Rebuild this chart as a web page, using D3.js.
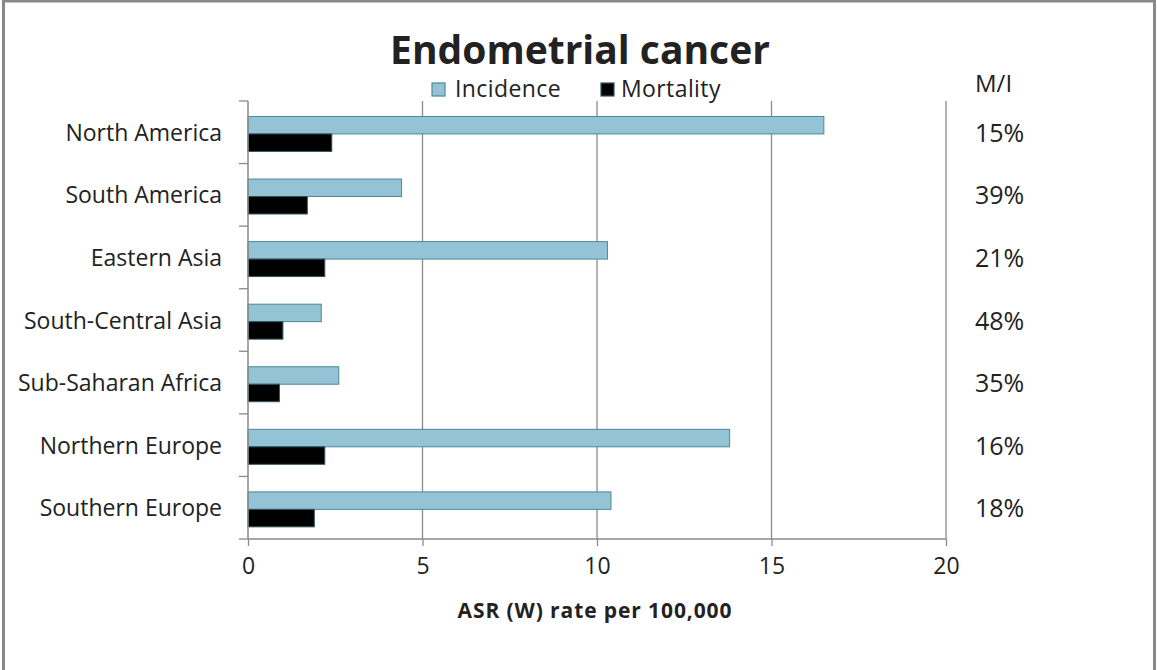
<!DOCTYPE html>
<html><head><meta charset="utf-8">
<script src="https://cdn.jsdelivr.net/npm/d3@7"></script>
<style>body{margin:0;background:#fff}svg{display:block}text{font-family:"Open Sans",Lato,sans-serif;fill:#222}</style>
</head><body>
<script>
const categories = ["North America","South America","Eastern Asia","South-Central Asia","Sub-Saharan Africa","Northern Europe","Southern Europe"];
const incidence = [16.5, 4.4, 10.3, 2.1, 2.6, 13.8, 10.4];
const mortality = [2.4, 1.7, 2.2, 1.0, 0.9, 2.2, 1.9];
const ratioLabels = ["15%","39%","21%","48%","35%","16%","18%"];
const xTicks = [0,5,10,15,20];
const seriesNames = ["Incidence","Mortality"];

const W=1157,H=670;
const svg=d3.select("body").append("svg").attr("width",W).attr("height",H);
svg.append("rect").attr("x",3.5).attr("y",1).attr("width",1151).attr("height",680).attr("fill","#fff").attr("stroke","#888").attr("stroke-width",3);

const x=d3.scaleLinear().domain([0,20]).range([248,946]);
const y=d3.scaleBand().domain(categories).range([101,539]);
const inner=d3.scaleBand().domain(seriesNames).range([0,y.bandwidth()]).paddingInner(0).paddingOuter(0.79).align(0.56);

// grid
svg.append("g").selectAll("line").data(xTicks.slice(1)).join("line")
  .attr("x1",d=>x(d)).attr("x2",d=>x(d)).attr("y1",101).attr("y2",539)
  .attr("stroke","#8a8a8a").attr("stroke-width",1.3);

// bars
const colors={Incidence:"#93c3d4",Mortality:"#000"};
const strokes={Incidence:"#4a8a9c",Mortality:"#2f5561"};
const g=svg.append("g");
categories.forEach((c,i)=>{
  [["Incidence",incidence[i]],["Mortality",mortality[i]]].forEach(([s,v])=>{
    g.append("rect").attr("x",x(0)).attr("y",y(c)+inner(s)).attr("width",x(v)-x(0)).attr("height",inner.bandwidth())
      .attr("fill",colors[s]).attr("stroke",strokes[s]).attr("stroke-width",1);
  });
});

// axes
const xa=svg.append("g").attr("transform","translate(0,539)").call(d3.axisBottom(x).tickValues(xTicks).tickSize(7).tickPadding(12));
xa.select(".domain").attr("stroke","#8a8a8a").attr("stroke-width",1.5).attr("d","M248,0H946");
xa.selectAll(".tick line").attr("stroke","#8a8a8a").attr("stroke-width",1.3);
xa.selectAll("text").attr("font-size",23).attr("fill","#222").attr("font-family","Open Sans");

const ya=svg.append("g").attr("transform","translate(248,0)");
ya.append("line").attr("x1",0).attr("x2",0).attr("y1",101).attr("y2",539).attr("stroke","#8a8a8a").attr("stroke-width",1.5);
const bounds=categories.map(c=>y(c)).concat([539]);
ya.selectAll("line.t").data(bounds).join("line").attr("class","t").attr("x1",-9).attr("x2",0).attr("y1",d=>d).attr("y2",d=>d).attr("stroke","#8a8a8a").attr("stroke-width",1.3);
ya.selectAll("text").data(categories).join("text").attr("x",-26).attr("y",d=>y(d)+y.bandwidth()/2).attr("dy","0.37em")
  .attr("text-anchor","end").attr("font-size",23).text(d=>d);

// ratio column
svg.append("text").attr("x",975).attr("y",92).attr("font-size",24).text("M/I");
svg.selectAll("text.r").data(categories).join("text").attr("class","r").attr("x",975).attr("y",(d)=>y(d)+y.bandwidth()/2).attr("dy","0.38em").attr("font-size",25).text((d,i)=>ratioLabels[i]);

// title
svg.append("text").attr("x",580).attr("y",64).attr("text-anchor","middle").attr("font-size",39).attr("font-weight","bold").attr("fill","#000").text("Endometrial cancer");

// legend
const leg=[{n:"Incidence",x:432,tx:455},{n:"Mortality",x:601,tx:621}];
leg.forEach(l=>{
  svg.append("rect").attr("x",l.x).attr("y",83).attr("width",13).attr("height",13).attr("fill",colors[l.n]).attr("stroke",strokes[l.n]).attr("stroke-width",1.2);
  svg.append("text").attr("x",l.tx).attr("y",97).attr("font-size",23).attr("letter-spacing",0.4).text(l.n);
});

// axis title
svg.append("text").attr("x",595).attr("y",618).attr("text-anchor","middle").attr("font-size",21).attr("letter-spacing",0.9).attr("font-weight","bold").text("ASR (W) rate per 100,000");
</script>
</body></html>
